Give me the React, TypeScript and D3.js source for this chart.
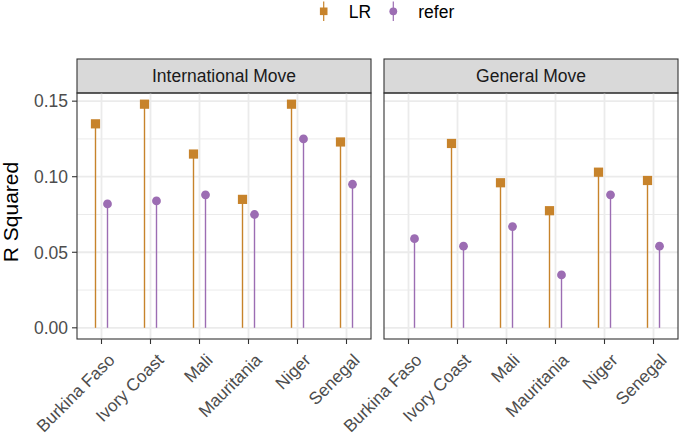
import * as d3 from "d3";

const countries = ["Burkina Faso", "Ivory Coast", "Mali", "Mauritania", "Niger", "Senegal"];
const panels = ["International Move", "General Move"];
const methods = ["LR", "refer"];

// R squared per country, in order of countries (null = not shown)
const intlLR = [0.135, 0.148, 0.115, 0.085, 0.148, 0.123];
const intlRefer = [0.082, 0.084, 0.088, 0.075, 0.125, 0.095];
const genLR = [null, 0.122, 0.096, 0.0775, 0.103, 0.0975];
const genRefer = [0.059, 0.054, 0.067, 0.035, 0.088, 0.054];

const yTicks = [0, 0.05, 0.1, 0.15];
const yMinor = [0.025, 0.075, 0.125];

const colors: Record<string, string> = { LR: "#C7832B", refer: "#9C6DB3" };

const W = 681;
const H = 437;
const panelTop = 93;
const panelBottom = 339;
const stripTop = 59;
const panelX = [
  [77, 371],
  [384, 678],
];
const font = "'Liberation Sans', Arial, sans-serif";

const seriesFor = (p: number) =>
  p === 0
    ? { LR: intlLR, refer: intlRefer }
    : { LR: genLR, refer: genRefer };

export default function App() {
  const y = d3.scaleLinear().domain([-0.0074, 0.1554]).range([panelBottom, panelTop]);
  const fmt = d3.format(".2f");

  return (
    <svg width={W} height={H} style={{ display: "block", position: "absolute", left: 0, top: 0 }} fontFamily={font}>
      <rect width={W} height={H} fill="#fff" />

      {/* legend */}
      {methods.map((m, i) => {
        const kx = i === 0 ? 323.7 : 393.3;
        return (
          <g key={m}>
            <line x1={kx} x2={kx} y1={1.5} y2={21} stroke={colors[m]} strokeWidth={1.2} />
            {m === "LR" ? (
              <rect x={kx - 3.8} y={7.5} width={7.6} height={7.6} fill={colors[m]} />
            ) : (
              <circle cx={kx} cy={11.3} r={3.9} fill={colors[m]} />
            )}
            <text x={kx + 25} y={17.5} fontSize={17.5} fill="#000">
              {m}
            </text>
          </g>
        );
      })}

      {/* y axis title */}
      <text transform={`translate(18,212) rotate(-90)`} textAnchor="middle" fontSize={21} fill="#000">
        R Squared
      </text>

      {/* y tick labels */}
      {yTicks.map((t) => (
        <g key={t}>
          <text x={68} y={y(t)} dy="0.36em" textAnchor="end" fontSize={17.5} fill="#4D4D4D">
            {fmt(t)}
          </text>
          <line x1={72} x2={77} y1={y(t)} y2={y(t)} stroke="#333" strokeWidth={1.1} />
        </g>
      ))}

      {panels.map((name, p) => {
        const [x0, x1] = panelX[p];
        const x = d3.scaleBand<string>().domain(countries).range([x0, x1]).paddingInner(0).paddingOuter(0);
        const dodge = d3.scalePoint<string>().domain(methods).range([-6, 6]);
        const series = seriesFor(p) as Record<string, (number | null)[]>;
        const cx = (c: string) => (x(c) ?? 0) + x.bandwidth() / 2;
        return (
          <g key={name}>
            {/* strip */}
            <rect x={x0} y={stripTop} width={x1 - x0} height={panelTop - stripTop} fill="#D9D9D9" stroke="#333" strokeWidth={1.1} />
            <text x={(x0 + x1) / 2} y={(stripTop + panelTop) / 2} dy="0.36em" textAnchor="middle" fontSize={17.5} fill="#1A1A1A">
              {name}
            </text>
            {/* grid */}
            {yMinor.map((t) => (
              <line key={"m" + t} x1={x0} x2={x1} y1={y(t)} y2={y(t)} stroke="#EBEBEB" strokeWidth={1} />
            ))}
            {yTicks.map((t) => (
              <line key={"M" + t} x1={x0} x2={x1} y1={y(t)} y2={y(t)} stroke="#EBEBEB" strokeWidth={1.8} />
            ))}
            {countries.map((c) => (
              <line key={"g" + c} x1={cx(c)} x2={cx(c)} y1={panelTop} y2={panelBottom} stroke="#EBEBEB" strokeWidth={1.8} />
            ))}
            {/* lollipops */}
            {methods.map((m) =>
              countries.map((c, i) => {
                const v = series[m][i];
                if (v == null) return null;
                const px = cx(c) + (dodge(m) ?? 0);
                return (
                  <g key={m + c}>
                    <line x1={px} x2={px} y1={y(0)} y2={y(v)} stroke={colors[m]} strokeWidth={1.4} />
                    {m === "LR" ? (
                      <rect x={px - 4.6} y={y(v) - 4.6} width={9.2} height={9.2} fill={colors[m]} />
                    ) : (
                      <circle cx={px} cy={y(v)} r={4.4} fill={colors[m]} />
                    )}
                  </g>
                );
              })
            )}
            {/* panel border */}
            <rect x={x0} y={panelTop} width={x1 - x0} height={panelBottom - panelTop} fill="none" stroke="#333" strokeWidth={1.1} />
            {/* x ticks and labels */}
            {countries.map((c) => (
              <g key={"t" + c}>
                <line x1={cx(c)} x2={cx(c)} y1={panelBottom} y2={panelBottom + 5} stroke="#333" strokeWidth={1.1} />
                <text
                  transform={`translate(${cx(c) + 5.5},${352.5}) rotate(-45)`}
                  textAnchor="end"
                  dy="0.71em"
                  fontSize={17.3}
                  fill="#4D4D4D"
                >
                  {c}
                </text>
              </g>
            ))}
          </g>
        );
      })}
    </svg>
  );
}
